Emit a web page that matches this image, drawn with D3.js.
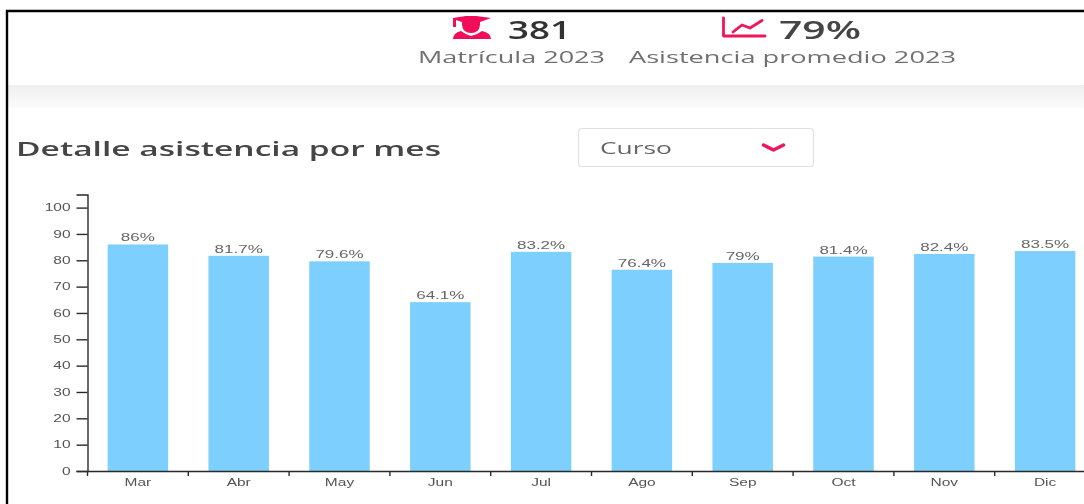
<!DOCTYPE html>
<html>
<head>
<meta charset="utf-8">
<script src="https://d3js.org/d3.v7.min.js"></script>
<style>
  html, body { margin: 0; padding: 0; background: #fff; overflow: hidden; }
  svg { display: block; }
  .ui { font-family: "Open Sans", sans-serif; }
  .axis text { font-family: "Liberation Sans", Arial, sans-serif; fill: #555; }
  .axis path, .axis line { stroke: #2a2a2a; stroke-width: 1.4; }
</style>
</head>
<body>
<div id="main"></div>
<script>
const months = ["Mar", "Abr", "May", "Jun", "Jul", "Ago", "Sep", "Oct", "Nov", "Dic"];
const attendance = [86, 81.7, 79.6, 64.1, 83.2, 76.4, 79, 81.4, 82.4, 83.5];
const yTicks = [0, 10, 20, 30, 40, 50, 60, 70, 80, 90, 100];

const ctx = { SVG_W: 1084, SVG_H: 504, LEFT: 87.5, BASE: 471, TOP100: 207.6, STRETCH: 1.55 };

// the screenshot was pulled wider, so the small text is stretched sideways too
function stretchText(sel, factor) {
    sel.each(function() {
        this.setAttribute("textLength", this.getComputedTextLength() * factor);
        this.setAttribute("lengthAdjust", "spacingAndGlyphs");
    });
}

function drawHeader(svg, page) {
    const defs = svg.append("defs");
    const grad = defs.append("linearGradient").attr("id", "band").attr("x2", 0).attr("y2", 1);
    grad.append("stop").attr("offset", 0).attr("stop-color", "#efefef");
    grad.append("stop").attr("offset", 1).attr("stop-color", "#fbfbfb");
    defs.append("filter").attr("id", "soft")
        .attr("filterUnits", "userSpaceOnUse")
        .attr("x", 0).attr("y", 0).attr("width", ctx.SVG_W).attr("height", ctx.SVG_H)
        .append("feGaussianBlur").attr("stdDeviation", 0.55);

    page.append("rect").attr("x", 8).attr("y", 85).attr("width", 1076).attr("height", 23)
        .attr("fill", "url(#band)");

    const label = (txt, x, y, size, len, color, weight) => page.append("text")
        .attr("class", "ui").attr("x", x).attr("y", y)
        .attr("font-size", size).attr("font-weight", weight || 400)
        .attr("fill", color)
        .attr("textLength", len).attr("lengthAdjust", "spacingAndGlyphs")
        .text(txt);

    label("381", 508, 39, 25, 63, "#333", 600);
    label("79%", 779, 39, 25, 82, "#444", 600);
    label("Matrícula 2023", 418, 62.5, 16, 187, "#707070");
    label("Asistencia promedio 2023", 629, 62.5, 16, 327, "#707070");
    label("Detalle asistencia por mes", 16, 155.5, 19, 425, "#444", 600);

    // dropdown
    page.append("rect").attr("x", 578.5).attr("y", 128.5).attr("width", 235).attr("height", 38)
        .attr("rx", 3).attr("fill", "#fff").attr("stroke", "#e2e2e2").attr("stroke-width", 1.2);
    label("Curso", 600, 154, 16, 72, "#666");
    page.append("path").attr("d", "M763.5 145 L773.5 150 L783.5 145")
        .attr("fill", "none").attr("stroke", "#f0145a").attr("stroke-width", 3.4)
        .attr("stroke-linecap", "round").attr("stroke-linejoin", "round");

    // student icon
    const icon = page.append("g").attr("fill", "#f0085a");
    icon.append("path").attr("d", "M453 18 L466 16 L476 16 L491 18 L480 22 L480 25 L462 25 L462 22 L456 20 L456 27 L453 27 Z");
    icon.append("path").attr("d", "M462 25 Q463 33 471 33 Q479 33 480 25 Z");
    icon.append("path").attr("d", "M453 39 Q453 33 461 31 Q466 35 471 36 Q477 35 482 31 Q491 33 491 39 Z");

    // trend icon
    page.append("path").attr("d", "M723.5 18 L723.5 36 L765 36 M733 32 L742 25 L750 28 L762 20.5")
        .attr("fill", "none").attr("stroke", "#f0145a").attr("stroke-width", 2.8)
        .attr("stroke-linecap", "round").attr("stroke-linejoin", "round");

    // black frame of the screenshot
    svg.append("path").attr("d", "M7 504 L7 11 L1084 11")
        .attr("fill", "none").attr("stroke", "#000").attr("stroke-width", 2.4);
}

function drawChart(page) {
    const x = d3.scaleBand()
        .domain(months)
        .range([ctx.LEFT, ctx.LEFT + 1008])
        .paddingInner(0.4)
        .paddingOuter(0.2);
    const y = d3.scaleLinear()
        .domain([0, 100])
        .range([ctx.BASE, ctx.TOP100]);

    page.selectAll(".bar")
        .data(attendance)
        .enter().append("rect")
        .attr("class", "bar")
        .attr("x", (d, i) => x(months[i]))
        .attr("y", d => y(d))
        .attr("width", x.bandwidth())
        .attr("height", d => ctx.BASE - y(d))
        .attr("fill", "#7dd0fd");

    page.selectAll(".barLabel")
        .data(attendance)
        .enter().append("text")
        .attr("class", "barLabel")
        .attr("x", (d, i) => x(months[i]) + x.bandwidth() / 2)
        .attr("y", d => y(d) - 3)
        .attr("text-anchor", "middle")
        .attr("font-family", "Liberation Sans, Arial, sans-serif")
        .attr("font-size", 10)
        .attr("fill", "#666")
        .text(d => d + "%")
        .call(stretchText, 1.7);

    // y axis runs a bit past 100
    const yAxis = page.append("g")
        .attr("class", "axis")
        .attr("transform", `translate(${ctx.LEFT},0)`)
        .call(d3.axisLeft(y.copy().domain([0, 105]).range([ctx.BASE, y(105)]))
            .tickValues(yTicks).tickSize(11).tickPadding(6));
    yAxis.selectAll("text").attr("font-size", 10).call(stretchText, ctx.STRETCH);

    const xAxis = page.append("g")
        .attr("class", "axis")
        .attr("transform", `translate(0,${ctx.BASE})`)
        .call(d3.axisBottom(x).tickSize(0).tickPadding(8));
    xAxis.selectAll("text").attr("font-size", 10).call(stretchText, ctx.STRETCH);

    // ticks sit between the bars
    xAxis.selectAll(".sep")
        .data(months)
        .enter().append("line")
        .attr("class", "sep")
        .attr("x1", d => x(d) - x.step() * 0.2)
        .attr("x2", d => x(d) - x.step() * 0.2)
        .attr("y1", 0).attr("y2", 5);
}

function createViz() {
    const svg = d3.select("#main").append("svg")
        .attr("width", ctx.SVG_W)
        .attr("height", ctx.SVG_H);
    const page = svg.append("g").attr("filter", "url(#soft)");
    drawHeader(svg, page);
    drawChart(page);
}
createViz();
</script>
</body>
</html>
